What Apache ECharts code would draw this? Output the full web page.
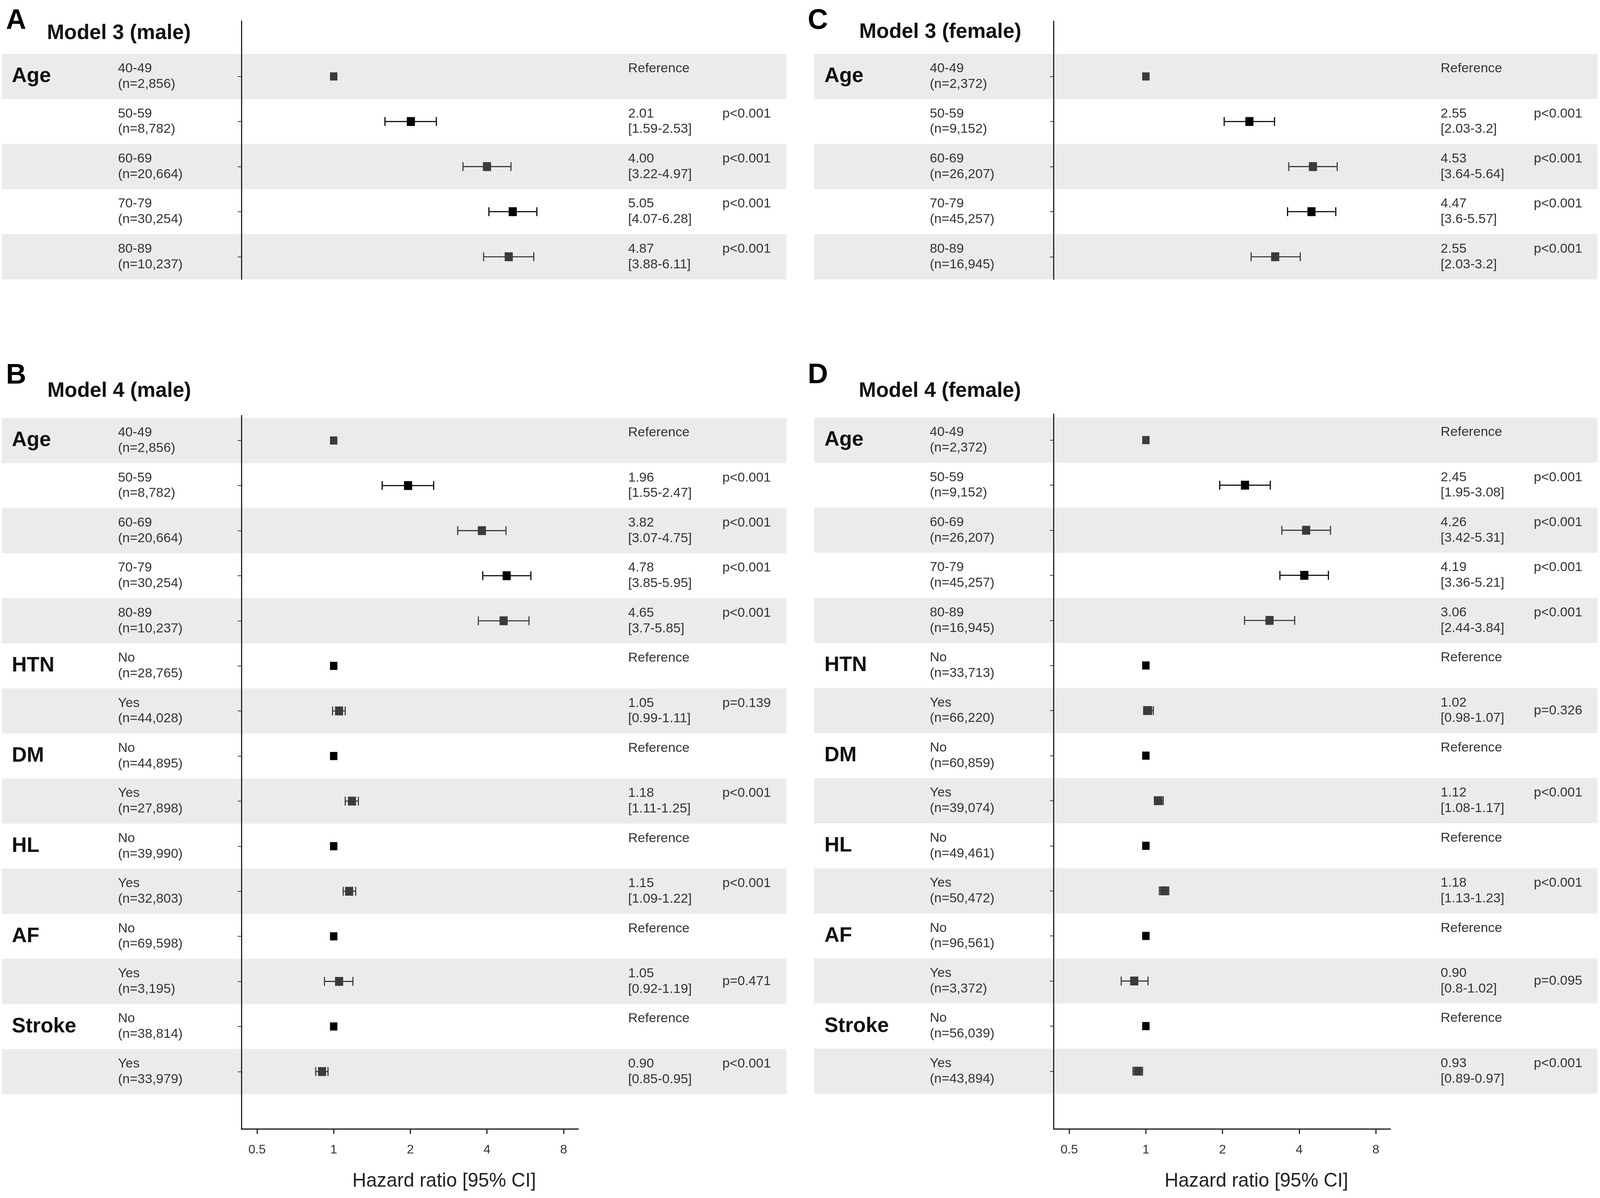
<!DOCTYPE html>
<html>
<head>
<meta charset="utf-8">
<title>Hazard ratios by age and comorbidity</title>
<script src="https://cdn.jsdelivr.net/npm/echarts@6/dist/echarts.min.js"></script>
<style>
  html, body { margin: 0; padding: 0; background: #fff; overflow: hidden; }
  #main { width: 100vw; height: 100vh; }
</style>
</head>
<body>
<div id="main"></div>
<script>
// row structure
const ageLevels = ['40-49', '50-59', '60-69', '70-79', '80-89'];
const binLevels = ['No', 'Yes'];
const model3Vars = ['Age'];
const model4Vars = ['Age', 'HTN', 'DM', 'HL', 'AF', 'Stroke'];

// A. Model 3 (male)
const aCount = ['2,856', '8,782', '20,664', '30,254', '10,237'];
const aHR = [1, 2.01, 4.00, 5.05, 4.87];
const aLow = [null, 1.59, 3.22, 4.07, 3.88];
const aHigh = [null, 2.53, 4.97, 6.28, 6.11];
const aHRText = ['Reference', '2.01', '4.00', '5.05', '4.87'];
const aCIText = ['', '[1.59-2.53]', '[3.22-4.97]', '[4.07-6.28]', '[3.88-6.11]'];
const aP = ['', 'p<0.001', 'p<0.001', 'p<0.001', 'p<0.001'];

// B. Model 4 (male)
const bCount = ['2,856', '8,782', '20,664', '30,254', '10,237', '28,765', '44,028', '44,895',
  '27,898', '39,990', '32,803', '69,598', '3,195', '38,814', '33,979'];
const bHR = [1, 1.96, 3.82, 4.78, 4.65, 1, 1.05, 1, 1.18, 1, 1.15, 1, 1.05, 1, 0.90];
const bLow = [null, 1.55, 3.07, 3.85, 3.7, null, 0.99, null, 1.11, null, 1.09, null, 0.92, null, 0.85];
const bHigh = [null, 2.47, 4.75, 5.95, 5.85, null, 1.11, null, 1.25, null, 1.22, null, 1.19, null, 0.95];
const bHRText = ['Reference', '1.96', '3.82', '4.78', '4.65', 'Reference', '1.05', 'Reference',
  '1.18', 'Reference', '1.15', 'Reference', '1.05', 'Reference', '0.90'];
const bCIText = ['', '[1.55-2.47]', '[3.07-4.75]', '[3.85-5.95]', '[3.7-5.85]', '', '[0.99-1.11]', '',
  '[1.11-1.25]', '', '[1.09-1.22]', '', '[0.92-1.19]', '', '[0.85-0.95]'];
const bP = ['', 'p<0.001', 'p<0.001', 'p<0.001', 'p<0.001', '', 'p=0.139', '', 'p<0.001', '',
  'p<0.001', '', 'p=0.471', '', 'p<0.001'];

// C. Model 3 (female) - last row is drawn where the picture puts it
const cCount = ['2,372', '9,152', '26,207', '45,257', '16,945'];
const cHR = [1, 2.55, 4.53, 4.47, 3.22];
const cLow = [null, 2.03, 3.64, 3.6, 2.59];
const cHigh = [null, 3.2, 5.64, 5.57, 4.04];
const cHRText = ['Reference', '2.55', '4.53', '4.47', '2.55'];
const cCIText = ['', '[2.03-3.2]', '[3.64-5.64]', '[3.6-5.57]', '[2.03-3.2]'];
const cP = ['', 'p<0.001', 'p<0.001', 'p<0.001', 'p<0.001'];

// D. Model 4 (female)
const dCount = ['2,372', '9,152', '26,207', '45,257', '16,945', '33,713', '66,220', '60,859',
  '39,074', '49,461', '50,472', '96,561', '3,372', '56,039', '43,894'];
const dHR = [1, 2.45, 4.26, 4.19, 3.06, 1, 1.02, 1, 1.12, 1, 1.18, 1, 0.90, 1, 0.93];
const dLow = [null, 1.95, 3.42, 3.36, 2.44, null, 0.98, null, 1.08, null, 1.13, null, 0.8, null, 0.89];
const dHigh = [null, 3.08, 5.31, 5.21, 3.84, null, 1.07, null, 1.17, null, 1.23, null, 1.02, null, 0.97];
const dHRText = ['Reference', '2.45', '4.26', '4.19', '3.06', 'Reference', '1.02', 'Reference',
  '1.12', 'Reference', '1.18', 'Reference', '0.90', 'Reference', '0.93'];
const dCIText = ['', '[1.95-3.08]', '[3.42-5.31]', '[3.36-5.21]', '[2.44-3.84]', '', '[0.98-1.07]', '',
  '[1.08-1.17]', '', '[1.13-1.23]', '', '[0.8-1.02]', '', '[0.89-0.97]'];
const dP = ['', 'p<0.001', 'p<0.001', 'p<0.001', 'p<0.001', '', 'p=0.326', '', 'p<0.001', '',
  'p<0.001', '', 'p=0.095', '', 'p<0.001'];

// x axis ticks (hazard ratio, log2 scale)
const hrTicks = [0.5, 1, 2, 4, 8];
const xTitle = 'Hazard ratio [95% CI]';

const panels = [
  { letter: 'A', title: 'Model 3 (male)', vars: model3Vars, n: aCount, hr: aHR, lo: aLow, hi: aHigh, hrText: aHRText, ciText: aCIText, p: aP },
  { letter: 'B', title: 'Model 4 (male)', vars: model4Vars, n: bCount, hr: bHR, lo: bLow, hi: bHigh, hrText: bHRText, ciText: bCIText, p: bP },
  { letter: 'C', title: 'Model 3 (female)', vars: model3Vars, n: cCount, hr: cHR, lo: cLow, hi: cHigh, hrText: cHRText, ciText: cCIText, p: cP },
  { letter: 'D', title: 'Model 4 (female)', vars: model4Vars, n: dCount, hr: dHR, lo: dLow, hi: dHigh, hrText: dHRText, ciText: dCIText, p: dP }
];

// layout, designed for 4328 x 3067 and scaled to the real window
const W = window.innerWidth || 4328;
const H = window.innerHeight || 3067;
const sx = W / 4328, sy = H / 3067, s = Math.min(sx, sy);
const X = function (v) { return v * sx; };
const Y = function (v) { return v * sy; };
const F = function (v) { return Math.round(v * s * 10) / 10; };

const ROW_H = 115.4;
const AXIS_W = 911;
const X_MIN = -1.204, X_MAX = 3.19;
const layouts = [
  { lineX: 653, bandX0: 5, bandX1: 2127, bandTop: 138, lineTop: 54, axisY: null, varX: 32, levelX: 319, hrX: 1699, pX: 1954, letterX: 16, letterY: 54, titleX: 127, titleY: 85, pMiddle: [] },
  { lineX: 653, bandX0: 5, bandX1: 2127, bandTop: 1070, lineTop: 1064, axisY: 2890, varX: 32, levelX: 319, hrX: 1699, pX: 1954, letterX: 16, letterY: 962, titleX: 128, titleY: 1001, pMiddle: [12] },
  { lineX: 2850, bandX0: 2202, bandX1: 4321, bandTop: 138, lineTop: 54, axisY: null, varX: 2230, levelX: 2515, hrX: 3897, pX: 4149, letterX: 2185, letterY: 54, titleX: 2324, titleY: 82, pMiddle: [] },
  { lineX: 2850, bandX0: 2202, bandX1: 4321, bandTop: 1069, lineTop: 1060, axisY: 2890, varX: 2230, levelX: 2515, hrX: 3897, pX: 4149, letterX: 2185, letterY: 961, titleX: 2323, titleY: 1001, pMiddle: [6, 12] }
];

const FONT = '"Liberation Sans", Arial, Helvetica, sans-serif';
const INK = '#1a1a1a';
const TEXT = '#333333';
const BAND = '#ebebeb';

function buildRows(vars) {
  const rows = [];
  vars.forEach(function (v) {
    const levels = v === 'Age' ? ageLevels : binLevels;
    levels.forEach(function (lv, j) {
      rows.push({ group: j === 0 ? v : '', level: lv });
    });
  });
  return rows;
}

function renderBand(params, api) {
  const i = api.value(1);
  const p0 = api.coord([0, i - 0.5]);
  const p1 = api.coord([1, i + 0.5]);
  return {
    type: 'rect',
    shape: { x: p0[0], y: p0[1], width: p1[0] - p0[0], height: p1[1] - p0[1] },
    style: { fill: BAND }
  };
}

function renderForest(params, api) {
  const row = api.value(3);
  const ink = row % 2 === 0 ? '#3b3b3b' : '#000';
  const c = api.coord([api.value(0), row]);
  const lo = api.value(1), hi = api.value(2);
  const children = [];
  let w = 20 * s, h = 22 * s;
  if (!isNaN(lo)) {
    w = 22 * s; h = 24 * s;
    const l = api.coord([lo, row]);
    const r = api.coord([hi, row]);
    const ls = { stroke: ink, lineWidth: 3 * s };
    const cap = 12 * s;
    children.push({ type: 'line', shape: { x1: l[0], y1: l[1], x2: r[0], y2: r[1] }, style: ls });
    children.push({ type: 'line', shape: { x1: l[0], y1: l[1] - cap, x2: l[0], y2: l[1] + cap }, style: ls });
    children.push({ type: 'line', shape: { x1: r[0], y1: r[1] - cap, x2: r[0], y2: r[1] + cap }, style: ls });
  }
  children.push({ type: 'rect', shape: { x: c[0] - w / 2, y: c[1] - h / 2, width: w, height: h }, style: { fill: ink } });
  return { type: 'group', children: children };
}

function textAxis(gridIndex, yMin, yMax, position, margin, labels, extra) {
  return {
    gridIndex: gridIndex, type: 'value', inverse: true, min: yMin, max: yMax, position: position, z: 3,
    axisLine: { show: false, onZero: false },
    axisTick: { show: false },
    splitLine: { show: false },
    axisLabel: Object.assign({
      customValues: labels.map(function (_, i) { return i; }),
      formatter: function (v) { return labels[Math.round(v)] || ''; },
      margin: margin, align: 'left', verticalAlign: 'middle',
      fontFamily: FONT, fontSize: F(36), lineHeight: F(42), color: TEXT
    }, extra || {})
  };
}

const grid = [], xAxis = [], yAxis = [], series = [], graphic = [];

panels.forEach(function (pn, k) {
  const L = layouts[k];
  const rows = buildRows(pn.vars);
  const nRows = rows.length;
  const bandBottom = L.bandTop + nRows * ROW_H;
  const bottom = L.axisY || bandBottom;
  const yMin = -0.5 - (L.bandTop - L.lineTop) / ROW_H;
  const yMax = nRows - 0.5 + (bottom - bandBottom) / ROW_H;
  const idx = rows.map(function (_, i) { return i; });

  // shaded rows, full panel width
  const gBand = grid.length;
  grid.push({ left: X(L.bandX0), top: Y(L.lineTop), width: X(L.bandX1 - L.bandX0), height: Y(bottom - L.lineTop), outerBoundsMode: 'none' });
  xAxis.push({ gridIndex: gBand, type: 'value', min: 0, max: 1, show: false });
  yAxis.push({ gridIndex: gBand, type: 'value', inverse: true, min: yMin, max: yMax, show: false });
  series.push({
    type: 'custom', xAxisIndex: xAxis.length - 1, yAxisIndex: yAxis.length - 1, z: 1, silent: true,
    encode: { x: 0, y: 1 }, renderItem: renderBand,
    data: idx.filter(function (i) { return i % 2 === 0; }).map(function (i) { return [1, i]; })
  });

  // plot area
  const gPlot = grid.length;
  const right = L.lineX + AXIS_W;
  grid.push({ left: X(L.lineX), top: Y(L.lineTop), width: X(AXIS_W), height: Y(bottom - L.lineTop), outerBoundsMode: 'none' });
  const hasAxis = !!L.axisY;
  xAxis.push({
    gridIndex: gPlot, type: 'value', min: X_MIN, max: X_MAX, show: hasAxis, z: 3,
    name: hasAxis ? xTitle : '', nameLocation: 'middle', nameGap: Y(110),
    nameTextStyle: { fontFamily: FONT, fontSize: F(52), lineHeight: F(52), color: '#222', padding: [0, 0, 0, X(186)] },
    axisLine: { show: true, onZero: false, lineStyle: { color: INK, width: 3 * s } },
    axisTick: { show: true, customValues: hrTicks.map(Math.log2), length: Y(13), lineStyle: { color: INK, width: 3 * s } },
    axisLabel: {
      customValues: hrTicks.map(Math.log2),
      formatter: function (v) { return String(Math.round(Math.pow(2, v) * 100) / 100); },
      margin: Y(38), fontFamily: FONT, fontSize: F(34), lineHeight: F(34), color: TEXT
    },
    splitLine: { show: false }
  });
  const xPlot = xAxis.length - 1;

  const yVar = yAxis.length;
  yAxis.push({
    gridIndex: gPlot, type: 'value', inverse: true, min: yMin, max: yMax, position: 'left', z: 3,
    axisLine: { show: true, onZero: false, lineStyle: { color: INK, width: 3 * s } },
    axisTick: { show: true, customValues: idx, length: X(10), lineStyle: { color: TEXT, width: 2 * s } },
    splitLine: { show: false },
    axisLabel: {
      customValues: idx,
      formatter: function (v) { return rows[Math.round(v)] ? rows[Math.round(v)].group : ''; },
      margin: X(L.lineX - L.varX), align: 'left', verticalAlign: 'middle', padding: [0, 0, Y(20), 0],
      fontFamily: FONT, fontSize: F(56), fontWeight: 'bold', color: '#111'
    }
  });
  const levelLabels = rows.map(function (r, i) { return r.level + '\n(n=' + pn.n[i] + ')'; });
  yAxis.push(textAxis(gPlot, yMin, yMax, 'left', X(L.lineX - L.levelX), levelLabels));
  const hrLabels = rows.map(function (r, i) {
    return pn.hrText[i] === 'Reference' ? 'Reference\n' : pn.hrText[i] + '\n' + pn.ciText[i];
  });
  yAxis.push(textAxis(gPlot, yMin, yMax, 'right', X(L.hrX - right), hrLabels));
  const pLabels = rows.map(function (r, i) {
    if (!pn.p[i]) return '';
    return L.pMiddle.indexOf(i) >= 0 ? pn.p[i] : pn.p[i] + '\n';
  });
  yAxis.push(textAxis(gPlot, yMin, yMax, 'right', X(L.pX - right), pLabels));

  series.push({
    type: 'custom', xAxisIndex: xPlot, yAxisIndex: yVar, z: 4, silent: true,
    encode: { x: [0, 1, 2], y: 3 }, renderItem: renderForest,
    data: rows.map(function (r, i) {
      return [
        Math.log2(pn.hr[i]),
        pn.lo[i] == null ? NaN : Math.log2(pn.lo[i]),
        pn.hi[i] == null ? NaN : Math.log2(pn.hi[i]),
        i
      ];
    })
  });

  graphic.push({ type: 'text', x: X(L.letterX), y: Y(L.letterY), silent: true,
    style: { text: pn.letter, font: 'bold ' + F(76) + 'px ' + FONT, fill: '#000', verticalAlign: 'middle' } });
  graphic.push({ type: 'text', x: X(L.titleX), y: Y(L.titleY), silent: true,
    style: { text: pn.title, font: 'bold ' + F(56) + 'px ' + FONT, fill: '#111', verticalAlign: 'middle' } });
});

const chartDom = document.getElementById('main');
chartDom.style.width = W + 'px';
chartDom.style.height = H + 'px';
const myChart = echarts.init(chartDom, null, { renderer: 'canvas' });
myChart.setOption({
  backgroundColor: '#fff',
  animation: false,
  grid: grid,
  xAxis: xAxis,
  yAxis: yAxis,
  series: series,
  graphic: graphic
});
window.addEventListener('resize', function () { myChart.resize(); });
</script>
</body>
</html>
